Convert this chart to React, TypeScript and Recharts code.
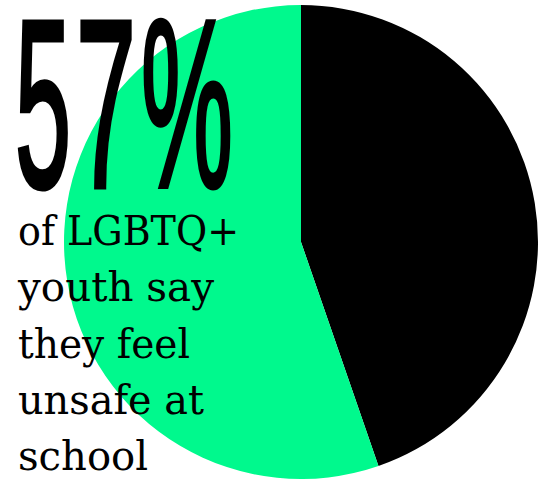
import React from 'react';
import { PieChart, Pie, Cell } from 'recharts';

const categories = ['Feel safe / other', 'Feel unsafe at school'];
const shares = [44.7, 55.3];
const sliceColors = ['#000000', '#00F98D'];
const headlineGlyphs = ['5', '7', '%'];
const captionLines = ['of LGBTQ+', 'youth say', 'they feel', 'unsafe at', 'school'];

const data = categories.map((name, i) => ({ name, value: shares[i] }));

const glyphX = [15, 76, 141];
const glyphW = [56, 60, 92];
const captionWidths = [221, 196, 172, 186, 130];

export default function App() {
  return (
    <div style={{ position: 'absolute', left: 0, top: 0, width: 540, height: 481, background: '#fff' }}>
      <PieChart width={540} height={481} margin={{ top: 0, right: 0, bottom: 0, left: 0 }}>
        <Pie
          data={data}
          dataKey="value"
          nameKey="name"
          cx={301}
          cy={242}
          outerRadius={237}
          innerRadius={0}
          startAngle={90}
          endAngle={-270}
          stroke="none"
          isAnimationActive={false}
        >
          {data.map((d, i) => (
            <Cell key={d.name} fill={sliceColors[i]} />
          ))}
        </Pie>
      </PieChart>
      <svg width={540} height={481} style={{ position: 'absolute', left: 0, top: 0, pointerEvents: 'none' }}>
        {headlineGlyphs.map((g, i) => (
          <text
            key={g}
            x={glyphX[i]}
            y={187}
            fontFamily="Liberation Sans, Arial, sans-serif"
            fontWeight={400}
            fontSize={240}
            textLength={glyphW[i]}
            lengthAdjust="spacingAndGlyphs"
            fill="#000"
            stroke="#000"
            strokeWidth={5}
          >
            {g}
          </text>
        ))}
        {captionLines.map((line, i) => (
          <text
            key={line}
            x={18}
            y={245 + i * 56.3}
            fontFamily="DejaVu Serif, serif"
            fontSize={41}
            textLength={captionWidths[i]}
            lengthAdjust="spacingAndGlyphs"
            fill="#000"
          >
            {line}
          </text>
        ))}
      </svg>
    </div>
  );
}
